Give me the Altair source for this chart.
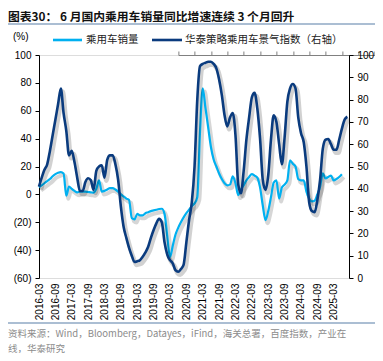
import altair as alt
import pandas as pd

# ---------------- text ----------------
TITLE = "图表30：  6 月国内乘用车销量同比增速连续 3 个月回升"
SOURCE_1 = "资料来源：Wind，Bloomberg，Datayes，iFind，海关总署，百度指数，产业在"
SOURCE_2 = "线，华泰研究"
NAME_SALES = "乘用车销量"
NAME_INDEX = "华泰策略乘用车景气指数（右轴）"
UNIT = "(%)"

# ---------------- data (monthly, from 2016-03) ----------------
START_YEAR, START_MONTH = 2016, 3

sales_yoy = [
    5, 6.5, 8, 9.5, 11, 13, 14.5, 15.5, 16, 15,
    -1, 5.5, 4, 2.5, 1.5, 2, 2, 2, 1.7, 1.5,
    1.2, 4, 10, 2, 2.5, 3.5, 4.5, 4.5, 3.5, 2,
    0, -1.5, -3, -4, -17, -18, -14, -15, -15, -13.5,
    -12.8, -12, -11.5, -11, -10.5, -10.3, -14, -30, -45, -37,
    -29, -24, -20, -16.5, -13.5, -11, -8.5, -6.5, -2, 45,
    76, 62, 48, 34, 25, 20, 15, 11, 8, 6.5,
    7, 13, 8, -0.5, 3.5, 6.5, 10, 12.5, 14.5, 13.5,
    12, 5, -8, -18.5, -12, -2, 8.5, 10, -3, 5,
    7, 10, 24.5, 22, 20, 11, 10, 10, 2, -3,
    -5, -4.5, 0, 5.5, 15, 11.5, 12.5, 13.5, 10, 11,
    12.5, 14.5,
]

index_vals = [
    41, 45, 48.5, 51, 57, 64, 71, 78, 85, 74,
    66, 55, 57, 52, 45, 39, 39, 43, 44.7, 43.8,
    39.5, 48, 50, 50.5, 45, 53, 55, 55, 51, 44,
    32, 23, 18, 13.5, 10, 7.2, 7.5, 8, 9.5, 11.5,
    14, 18, 21.5, 24.5, 26.5, 25, 16, 10.5, 8, 6.6,
    3.5, 2.8, 4, 6, 16, 26, 34, 50, 80, 95,
    96, 96.5, 97, 97, 96, 94, 89, 82, 73, 68,
    72, 74, 64, 42, 38, 48, 62, 72, 81, 83,
    76, 62.6, 44, 39.5, 46, 62, 73, 70, 60, 51,
    63, 79, 85, 87, 85, 72, 65, 61, 50, 34,
    30, 29.5, 35, 44, 58, 62, 62.3, 60, 57.5, 57.5,
    62, 67, 71, 72.3,
]

months = [
    f"{START_YEAR + (START_MONTH - 1 + i) // 12}-{(START_MONTH - 1 + i) % 12 + 1:02d}"
    for i in range(len(index_vals))
]
tick_idx = list(range(0, 109, 6))
tick_labels = [months[i] for i in tick_idx]
left_ticks = [-60, -40, -20, 0, 20, 40, 60, 80, 100]
right_ticks = list(range(0, 101, 10))

sales_df = pd.DataFrame({"m": range(len(sales_yoy)), "month": months[:len(sales_yoy)], "v": sales_yoy})
index_df = pd.DataFrame({"m": range(len(index_vals)), "month": months, "r": index_vals})

# ---------------- layout ----------------
W, H = 310, 223
X_MAX = 113.6
LEFT_DOM = [-60, 100]
RIGHT_DOM = [0, 100]
ZERO_POS = H * (LEFT_DOM[1] - 0) / (LEFT_DOM[1] - LEFT_DOM[0])

LIGHT = "#00B0F0"
DARK = "#0A3B7E"
FONT = "Liberation Sans"
CJK = "Noto Sans CJK SC"

label_expr = "[" + ",".join(f"'{t}'" for t in tick_labels) + "][round(datum.value / 6)]"
xscale = alt.Scale(domain=[0, X_MAX], nice=False, zero=False)

x_labels_axis = alt.Axis(values=tick_idx, labelExpr=label_expr, labelAngle=-90, domain=False,
                         ticks=False, grid=False, title=None, labelPadding=5, labelFontSize=10,
                         labelFont=FONT, labelColor="#000")
x_zero_axis = alt.Axis(values=tick_idx, labels=False, domain=True, ticks=True, tickSize=4,
                       grid=False, title=None, position=ZERO_POS, domainColor="#808080",
                       tickColor="#808080", domainWidth=1.2)

left_axis = alt.Axis(values=left_ticks, orient="left", grid=False, title=None, tickSize=4,
                     labelExpr="datum.value < 0 ? '(' + abs(datum.value) + ')' : datum.value + '\u00a0'",
                     domainColor="#000", tickColor="#000", labelColor="#000", labelFont=FONT,
                     labelFontSize=10, labelPadding=4)
right_axis = alt.Axis(values=right_ticks, orient="right", grid=False, title=None, tickSize=4,
                      domainColor="#000", tickColor="#000", labelColor="#000", labelFont=FONT,
                      labelFontSize=10, labelPadding=4)

sales_shadow = alt.Chart(sales_df).mark_line(
    color="#000", opacity=0.16, strokeWidth=4, xOffset=2, yOffset=3, interpolate="monotone"
).encode(
    x=alt.X("m:Q", scale=xscale, axis=None),
    y=alt.Y("v:Q", scale=alt.Scale(domain=LEFT_DOM, nice=False), axis=None),
)
sales_line = alt.Chart(sales_df).mark_line(
    color=LIGHT, strokeWidth=2.2, interpolate="monotone"
).encode(
    x=alt.X("m:Q", scale=xscale, axis=x_labels_axis),
    y=alt.Y("v:Q", scale=alt.Scale(domain=LEFT_DOM, nice=False), axis=left_axis),
)
index_shadow = alt.Chart(index_df).mark_line(
    color="#000", opacity=0.18, strokeWidth=4.5, xOffset=2, yOffset=3, interpolate="monotone"
).encode(
    x=alt.X("m:Q", scale=xscale, axis=None),
    y=alt.Y("r:Q", scale=alt.Scale(domain=RIGHT_DOM, nice=False), axis=None),
)
index_line = alt.Chart(index_df).mark_line(
    color=DARK, strokeWidth=2.6, interpolate="monotone"
).encode(
    x=alt.X("m:Q", scale=xscale, axis=x_zero_axis),
    y=alt.Y("r:Q", scale=alt.Scale(domain=RIGHT_DOM, nice=False), axis=right_axis),
)

# ---------------- annotations (title, legend, source) ----------------
def text_layer(txt, x, y, size, color="#000", weight="normal", font=CJK, baseline="middle"):
    return alt.Chart(pd.DataFrame({"t": [txt]})).mark_text(
        align="left", baseline=baseline, fontSize=size, font=font, color=color, fontWeight=weight
    ).encode(text="t:N", x=alt.value(x), y=alt.value(y))

def rule_layer(x1, x2, y, color, width):
    return alt.Chart(pd.DataFrame({"k": [0]})).mark_rule(color=color, strokeWidth=width).encode(
        x=alt.value(x1), x2=alt.value(x2), y=alt.value(y)
    )

title = text_layer(TITLE, -31, -38.5, 11.8, color="#111", weight="bold")
top_sep = rule_layer(-31, 336, -31, "#8FA8C4", 1.5)
unit = text_layer(UNIT, -26, -18, 10, font=FONT)
sw1 = rule_layer(14, 43, -15, LIGHT, 2.6)
lg1 = text_layer(NAME_SALES, 47, -15, 10.5, color="#222")
sw2 = rule_layer(113, 143, -15, DARK, 2.6)
lg2 = text_layer(NAME_INDEX, 146, -15, 10.5, color="#222")
bot_sep = rule_layer(-31, 336, H + 45, "#8FA8C4", 1.5)
src1 = text_layer(SOURCE_1, -31, H + 56, 9.5, color="#8C8C8C")
src2 = text_layer(SOURCE_2, -31, H + 73.5, 9.5, color="#8C8C8C", baseline="alphabetic")

chart = alt.layer(
    sales_shadow, sales_line, index_shadow, index_line,
    title, top_sep, unit, sw1, lg1, sw2, lg2, bot_sep, src1, src2,
).resolve_scale(
    x="independent", y="independent"
).resolve_axis(
    x="independent", y="independent"
).properties(
    width=W, height=H,
    padding={"left": 31, "top": 47, "right": 26, "bottom": 75},
    autosize=alt.AutoSizeParams(type="none"),
).configure_view(stroke=None).configure(background="white")

chart.save("out.html", embed_options={"renderer": "svg", "actions": False})
